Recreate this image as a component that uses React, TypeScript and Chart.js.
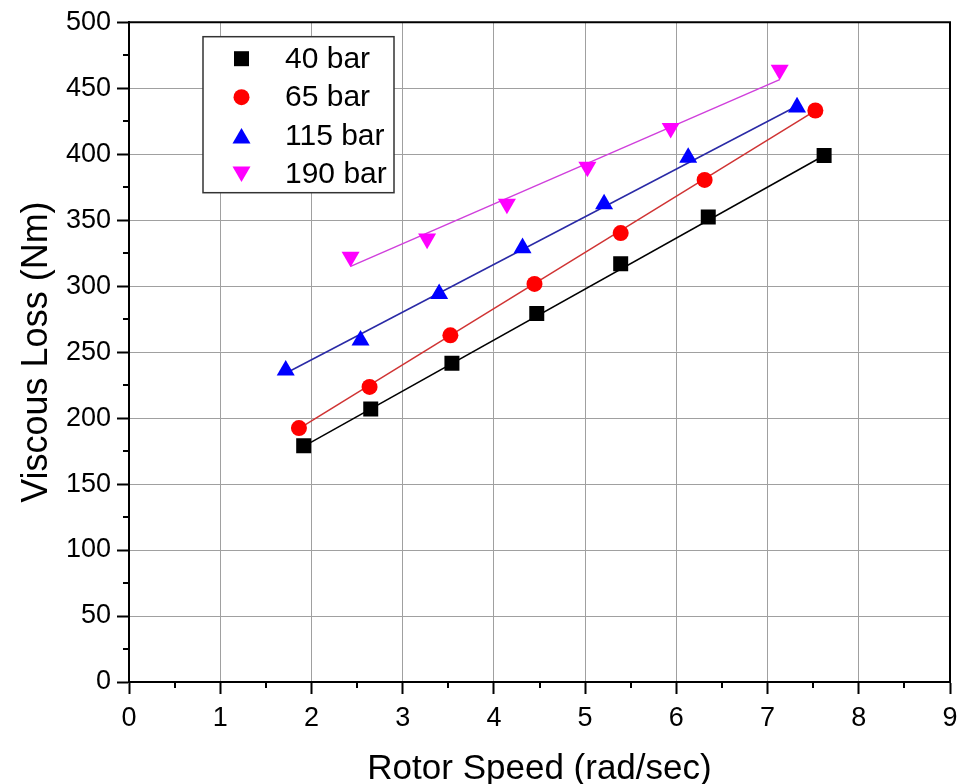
import React, { useEffect, useRef } from 'react';
import { Chart, registerables } from 'chart.js';

Chart.register(...registerables);

// ---- Data ----
const SERIES_LABELS = ['40 bar', '65 bar', '115 bar', '190 bar'];

const X_40 = [1.915, 2.65, 3.54, 4.47, 5.39, 6.35, 7.62];
const Y_40 = [179.1, 206.8, 241.5, 279.3, 316.9, 352.3, 398.9];

const X_65 = [1.863, 2.637, 3.523, 4.445, 5.39, 6.31, 7.524];
const Y_65 = [192.4, 223.6, 262.7, 301.7, 340.2, 380.5, 433.1];

const X_115 = [1.718, 2.538, 3.4, 4.314, 5.208, 6.13, 7.323];
const Y_115 = [236.2, 258.9, 294.1, 328.9, 362.1, 397.4, 435.6];

const X_190 = [2.429, 3.268, 4.143, 5.025, 5.938, 7.133];
const Y_190 = [322.1, 335.9, 362.3, 390.3, 419.7, 463.8];

// Linear-fit line end points
const FIT_X_40 = [1.915, 7.62];
const FIT_Y_40 = [178.5, 399];
const FIT_X_65 = [1.863, 7.524];
const FIT_Y_65 = [192, 433];
const FIT_X_115 = [1.718, 7.323];
const FIT_Y_115 = [234, 436.5];
const FIT_X_190 = [2.429, 7.133];
const FIT_Y_190 = [315, 456.5];

const X_MINOR = [0.5, 1.5, 2.5, 3.5, 4.5, 5.5, 6.5, 7.5, 8.5];
const Y_MINOR = [25, 75, 125, 175, 225, 275, 325, 375, 425, 475];

const MARKER_COLORS = ['#000000', '#ff0000', '#0000ff', '#ff00ff'];
const LINE_COLORS = ['#000000', '#d03434', '#2a2aa6', '#d040dc'];
const MARKER_STYLES = ['rect', 'circle', 'triangle', 'triangleDown'];
const MARKER_RADII = [10.6, 8, 10.4, 10.4];

const FONT = "'Liberation Sans', Arial, sans-serif";

const zip = (xs: number[], ys: number[]) => xs.map((x, i) => ({ x, y: ys[i] }));

function drawMarker(ctx: CanvasRenderingContext2D, style: string, x: number, y: number, r: number, color: string) {
  ctx.save();
  ctx.fillStyle = color;
  ctx.beginPath();
  if (style === 'rect') {
    const s = r * Math.SQRT1_2;
    ctx.rect(x - s, y - s, 2 * s, 2 * s);
  } else if (style === 'circle') {
    ctx.arc(x, y, r, 0, Math.PI * 2);
  } else if (style === 'triangle') {
    const w = r * Math.sin(Math.PI / 3);
    ctx.moveTo(x, y - r);
    ctx.lineTo(x + w, y + r / 2);
    ctx.lineTo(x - w, y + r / 2);
    ctx.closePath();
  } else {
    const w = r * Math.sin(Math.PI / 3);
    ctx.moveTo(x, y + r);
    ctx.lineTo(x + w, y - r / 2);
    ctx.lineTo(x - w, y - r / 2);
    ctx.closePath();
  }
  ctx.fill();
  ctx.restore();
}

const framePlugin = {
  id: 'frameAndMinor',
  afterDraw(chart: any) {
    const { ctx, chartArea, scales } = chart;
    const x = scales.x;
    const y = scales.y;
    ctx.save();
    ctx.strokeStyle = '#000';
    ctx.lineWidth = 2;
    // top & right frame
    ctx.beginPath();
    ctx.moveTo(chartArea.left, chartArea.top);
    ctx.lineTo(chartArea.right, chartArea.top);
    ctx.lineTo(chartArea.right, chartArea.bottom);
    ctx.stroke();
    // minor ticks
    ctx.beginPath();
    for (const v of X_MINOR) {
      const px = Math.round(x.getPixelForValue(v));
      ctx.moveTo(px, chartArea.bottom);
      ctx.lineTo(px, chartArea.bottom + 6);
    }
    for (const v of Y_MINOR) {
      const py = Math.round(y.getPixelForValue(v));
      ctx.moveTo(chartArea.left, py);
      ctx.lineTo(chartArea.left - 6, py);
    }
    ctx.stroke();
    ctx.restore();

    // legend
    const lx = chartArea.left + 74;
    const ly = chartArea.top + 14.5;
    const lw = 191;
    const lh = 156;
    ctx.save();
    ctx.fillStyle = '#fff';
    ctx.fillRect(lx, ly, lw, lh);
    ctx.strokeStyle = '#333';
    ctx.lineWidth = 1.5;
    ctx.strokeRect(lx, ly, lw, lh);
    ctx.font = `30px ${FONT}`;
    ctx.textBaseline = 'middle';
    ctx.textAlign = 'left';
    ctx.fillStyle = '#000';
    SERIES_LABELS.forEach((label, i) => {
      const cy = ly + 22 + i * 38.5;
      const r = MARKER_RADII[i];
      const st = MARKER_STYLES[i];
      let my = cy;
      if (st === 'triangle') my = cy + r * 0.25;
      if (st === 'triangleDown') my = cy - r * 0.25;
      drawMarker(ctx, st, lx + 38.5, my, r, MARKER_COLORS[i]);
      ctx.fillStyle = '#000';
      ctx.fillText(label, lx + 82, cy + 1);
    });
    ctx.restore();
  },
};

export default function App() {
  const ref = useRef<HTMLCanvasElement | null>(null);

  useEffect(() => {
    document.body.style.margin = '0';
    const canvas = ref.current;
    if (!canvas) return;

    const fits = [
      zip(FIT_X_40, FIT_Y_40),
      zip(FIT_X_65, FIT_Y_65),
      zip(FIT_X_115, FIT_Y_115),
      zip(FIT_X_190, FIT_Y_190),
    ];
    const pts = [zip(X_40, Y_40), zip(X_65, Y_65), zip(X_115, Y_115), zip(X_190, Y_190)];

    const lineSets = fits.map((d, i) => ({
      label: SERIES_LABELS[i] + ' fit',
      data: d,
      showLine: true,
      borderColor: LINE_COLORS[i],
      backgroundColor: LINE_COLORS[i],
      borderWidth: 1.5,
      pointRadius: 0,
      order: 2,
    }));
    const markerSets = pts.map((d, i) => ({
      label: SERIES_LABELS[i],
      data: d,
      showLine: false,
      backgroundColor: MARKER_COLORS[i],
      borderColor: MARKER_COLORS[i],
      pointStyle: MARKER_STYLES[i] === 'triangleDown' ? 'triangle' : MARKER_STYLES[i],
      rotation: MARKER_STYLES[i] === 'triangleDown' ? 180 : 0,
      pointRadius: MARKER_RADII[i],
      pointBorderWidth: 0,
      order: 1,
    }));

    const tickFont = { family: FONT, size: 27 };
    const chart = new Chart(canvas, {
      type: 'scatter',
      data: { datasets: [...lineSets, ...markerSets] as any },
      options: {
        responsive: false,
        animation: false,
        layout: { padding: { top: 13, right: 17, left: 0, bottom: 0 } },
        plugins: { legend: { display: false }, tooltip: { enabled: false } },
        scales: {
          x: {
            type: 'linear',
            min: 0,
            max: 9,
            ticks: { stepSize: 1, font: tickFont, color: '#000', padding: 8 },
            grid: { color: '#a0a0a0', lineWidth: 1, tickColor: '#000', tickLength: 12, tickWidth: 2 },
            border: { display: true, color: '#000', width: 2 },
            title: {
              display: true,
              text: 'Rotor Speed (rad/sec)',
              color: '#000',
              font: { family: FONT, size: 35, lineHeight: 0.85 },
              padding: { top: 0, bottom: 0 },
            },
            afterFit: (s: any) => {
              s.height = 102;
            },
          },
          y: {
            type: 'linear',
            min: 0,
            max: 500,
            ticks: { stepSize: 50, font: tickFont, color: '#000', padding: 6 },
            grid: { color: '#a0a0a0', lineWidth: 1, tickColor: '#000', tickLength: 12, tickWidth: 2 },
            border: { display: true, color: '#000', width: 2 },
            title: {
              display: true,
              text: 'Viscous Loss (Nm)',
              color: '#000',
              font: { family: FONT, size: 36, lineHeight: 1 },
              padding: { top: 19, bottom: 0 },
            },
            afterFit: (s: any) => {
              s.width = 129;
            },
          },
        },
      } as any,
      plugins: [framePlugin],
    });

    return () => {
      chart.destroy();
    };
  }, []);

  return (
    <div style={{ width: 967, height: 784, background: '#fff' }}>
      <canvas ref={ref} width={967} height={784} />
    </div>
  );
}
